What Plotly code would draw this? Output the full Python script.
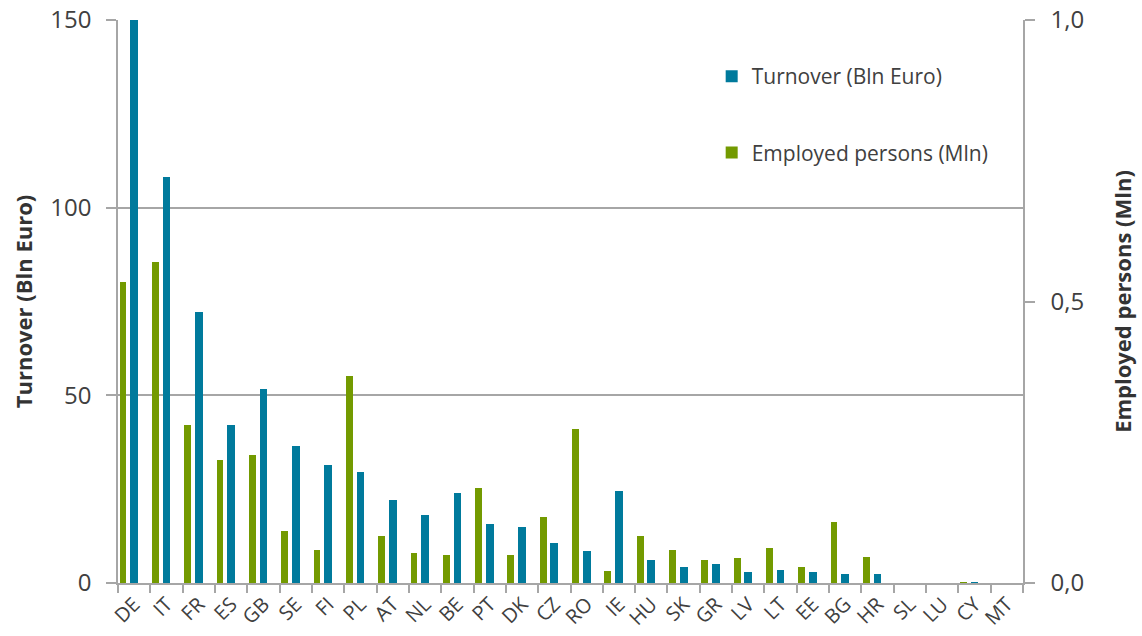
import plotly.graph_objects as go

countries = ["DE", "IT", "FR", "ES", "GB", "SE", "FI", "PL", "AT", "NL", "BE", "PT", "DK", "CZ",
             "RO", "IE", "HU", "SK", "GR", "LV", "LT", "EE", "BG", "HR", "SL", "LU", "CY", "MT"]
turnover_bln = [150.0, 108.3, 72.3, 42.0, 51.6, 36.5, 31.4, 29.5, 22.2, 18.0, 24.0, 15.7, 14.8, 10.7,
                8.4, 24.4, 6.1, 4.3, 5.1, 2.9, 3.4, 2.9, 2.4, 2.4, 0.0, 0.0, 0.2, 0.0]
employed_mln = [0.534, 0.571, 0.280, 0.219, 0.227, 0.093, 0.059, 0.368, 0.083, 0.053, 0.050, 0.169,
                0.050, 0.117, 0.273, 0.022, 0.083, 0.059, 0.041, 0.044, 0.062, 0.028, 0.108, 0.047,
                0.0, 0.0, 0.001, 0.0]

BLUE = "#007A9C"
GREEN = "#739A00"
GRID = "#A6A6A6"
TXT = "#404040"
FONT = "Open Sans, sans-serif"

fig = go.Figure()
fig.add_trace(go.Bar(
    x=countries, y=turnover_bln, name="Turnover (Bln Euro)", yaxis="y",
    marker=dict(color=BLUE, line=dict(width=0)),
    width=0.24, offset=-0.12, legendgroup="a", legendrank=1,
))
fig.add_trace(go.Bar(
    x=countries, y=employed_mln, name="Employed persons (Mln)", yaxis="y2",
    marker=dict(color=GREEN, line=dict(width=0)),
    width=0.21, offset=-0.45, legendgroup="b", legendrank=2,
))

fig.update_layout(
    width=1142, height=636,
    margin=dict(l=118, r=119, t=20, b=53, autoexpand=False),
    paper_bgcolor="white", plot_bgcolor="white",
    separators=", ",
    font=dict(family=FONT, size=20, color=TXT),
    barmode="overlay",
    bargap=0,
    showlegend=True,
    legend=dict(
        x=0.656, y=0.936, xanchor="left", yanchor="top",
        traceorder="grouped", tracegroupgap=46,
        font=dict(family=FONT, size=21, color=TXT),
        bgcolor="rgba(0,0,0,0)",
    ),
    xaxis=dict(
        type="category", tickangle=-45, showgrid=False, automargin=False,
        showline=True, linecolor=GRID, linewidth=1.5,
        ticks="outside", tickson="boundaries", ticklen=8, tickcolor=GRID, tickwidth=1.5,
        tickfont=dict(family=FONT, size=20, color=TXT),
        range=[-0.5, len(countries) - 0.5],
    ),
    yaxis=dict(
        range=[0, 150], dtick=50, showgrid=True, gridcolor=GRID, gridwidth=1.5,
        showline=True, linecolor=GRID, linewidth=1.5, automargin=False,
        ticks="outside", ticklen=10, tickcolor=GRID, tickwidth=1.5,
        ticklabelstandoff=10,
        zeroline=False,
        tickfont=dict(family=FONT, size=24, color=TXT),
        title=dict(text="<b>Turnover (Bln Euro)</b>", font=dict(family=FONT, size=22, color="#333333"), standoff=12),
    ),
    yaxis2=dict(
        overlaying="y", side="right", range=[0, 1.0], dtick=0.5, tickformat=".1f",
        showgrid=False, showline=True, linecolor=GRID, linewidth=1.5, automargin=False,
        ticks="outside", ticklen=10, tickcolor=GRID, tickwidth=1.5, zeroline=False,
        ticklabelstandoff=11,
        tickfont=dict(family=FONT, size=24, color=TXT),
        title=dict(text="<b>Employed persons (Mln)</b>", font=dict(family=FONT, size=22, color="#333333"), standoff=32),
    ),
)

fig.write_html("out.html", config={"displayModeBar": False},
               post_script="document.body.style.margin='0';")
